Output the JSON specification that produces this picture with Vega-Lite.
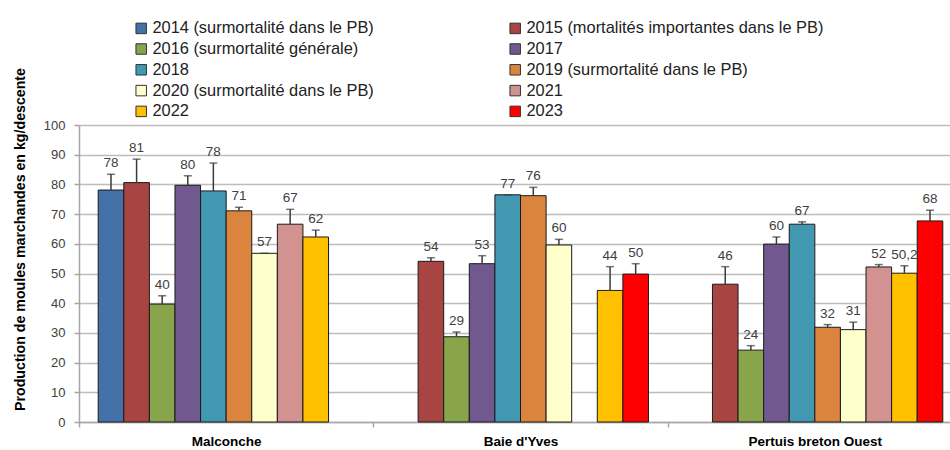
{
  "$schema": "https://vega.github.io/schema/vega-lite/v6.json",
  "width": 883,
  "height": 297,
  "padding": {"top": 20, "left": 12, "right": 0, "bottom": 0},
  "background": "white",
  "config": {
    "view": {"stroke": null},
    "font": "Liberation Sans",
    "axis": {"labelFont": "Liberation Sans", "titleFont": "Liberation Sans"},
    "axisY": {"tickCount": 10}
  },
  "data": {
    "values": [
      {"site": "Malconche", "serie": "2014 (surmortalité dans le PB)", "value": 78.1, "high": 83.4, "label": "78"},
      {"site": "Malconche", "serie": "2015 (mortalités importantes dans le PB)", "value": 80.6, "high": 88.5, "label": "81"},
      {"site": "Malconche", "serie": "2016 (surmortalité générale)", "value": 39.7, "high": 42.5, "label": "40"},
      {"site": "Malconche", "serie": "2017", "value": 79.7, "high": 82.9, "label": "80"},
      {"site": "Malconche", "serie": "2018", "value": 77.8, "high": 87.2, "label": "78"},
      {"site": "Malconche", "serie": "2019 (surmortalité dans le PB)", "value": 71.1, "high": 72.3, "label": "71"},
      {"site": "Malconche", "serie": "2020 (surmortalité dans le PB)", "value": 56.8, "high": 56.8, "label": "57"},
      {"site": "Malconche", "serie": "2021", "value": 66.6, "high": 71.6, "label": "67"},
      {"site": "Malconche", "serie": "2022", "value": 62.3, "high": 64.6, "label": "62"},
      {"site": "Baie d'Yves", "serie": "2015 (mortalités importantes dans le PB)", "value": 54.1, "high": 55.3, "label": "54"},
      {"site": "Baie d'Yves", "serie": "2016 (surmortalité générale)", "value": 28.7, "high": 30.3, "label": "29"},
      {"site": "Baie d'Yves", "serie": "2017", "value": 53.3, "high": 56.0, "label": "53"},
      {"site": "Baie d'Yves", "serie": "2018", "value": 76.5, "high": 76.5, "label": "77"},
      {"site": "Baie d'Yves", "serie": "2019 (surmortalité dans le PB)", "value": 76.2, "high": 79.0, "label": "76"},
      {"site": "Baie d'Yves", "serie": "2020 (surmortalité dans le PB)", "value": 59.6, "high": 61.5, "label": "60"},
      {"site": "Baie d'Yves", "serie": "2022", "value": 44.3, "high": 52.3, "label": "44"},
      {"site": "Baie d'Yves", "serie": "2023", "value": 49.8, "high": 53.3, "label": "50"},
      {"site": "Pertuis breton Ouest", "serie": "2015 (mortalités importantes dans le PB)", "value": 46.4, "high": 52.3, "label": "46"},
      {"site": "Pertuis breton Ouest", "serie": "2016 (surmortalité générale)", "value": 24.2, "high": 25.7, "label": "24"},
      {"site": "Pertuis breton Ouest", "serie": "2017", "value": 59.9, "high": 62.3, "label": "60"},
      {"site": "Pertuis breton Ouest", "serie": "2018", "value": 66.6, "high": 67.4, "label": "67"},
      {"site": "Pertuis breton Ouest", "serie": "2019 (surmortalité dans le PB)", "value": 31.9, "high": 32.8, "label": "32"},
      {"site": "Pertuis breton Ouest", "serie": "2020 (surmortalité dans le PB)", "value": 31.1, "high": 33.6, "label": "31"},
      {"site": "Pertuis breton Ouest", "serie": "2021", "value": 52.2, "high": 53.0, "label": "52"},
      {"site": "Pertuis breton Ouest", "serie": "2022", "value": 50.1, "high": 52.6, "label": "50,2"},
      {"site": "Pertuis breton Ouest", "serie": "2023", "value": 67.7, "high": 71.3, "label": "68"}
    ]
  },
  "encoding": {
    "x": {
      "field": "site", "type": "nominal",
      "sort": ["Malconche", "Baie d'Yves", "Pertuis breton Ouest"],
      "scale": {"paddingInner": 0, "paddingOuter": 0},
      "axis": {
        "title": null, "labelAngle": 0, "labelFontWeight": "bold", "labelFontSize": 13.5,
        "labelColor": "#000000", "domainColor": "#a6a6a6", "domainWidth": 1.5,
        "tickColor": "#a6a6a6", "tickSize": 5, "tickWidth": 1.5, "tickBand": "extent", "labelPadding": 7, "grid": false
      }
    },
    "xOffset": {
      "field": "serie", "type": "nominal",
      "scale": {
        "domain": ["2014 (surmortalité dans le PB)", "2015 (mortalités importantes dans le PB)", "2016 (surmortalité générale)", "2017", "2018", "2019 (surmortalité dans le PB)", "2020 (surmortalité dans le PB)", "2021", "2022", "2023"],
        "paddingInner": 0, "paddingOuter": 0.75
      }
    }
  },
  "layer": [
    {
      "mark": {"type": "bar", "stroke": "#1a1a1a", "strokeWidth": 1},
      "encoding": {
        "y": {
          "field": "value", "type": "quantitative",
          "scale": {"domain": [0, 100], "nice": false},
          "axis": {
            "title": "Production de moules marchandes en kg/descente",
            "titleFontSize": 14.2, "titleFontWeight": "bold", "titleColor": "#000000",
            "titleX": -52, "titleY": 114, "titleBaseline": "bottom", "titleAngle": 270,
            "tickCount": 10, "labelOverlap": false,
            "labelFontSize": 13, "labelColor": "#404040", "labelPadding": 9,
            "tickSize": 5, "tickWidth": 1.5, "tickColor": "#a6a6a6", "domainColor": "#a6a6a6", "domainWidth": 1.5,
            "gridColor": "#bdbdbd", "gridWidth": 1.5
          }
        },
        "color": {
          "field": "serie", "type": "nominal",
          "scale": {
            "domain": ["2014 (surmortalité dans le PB)", "2015 (mortalités importantes dans le PB)", "2016 (surmortalité générale)", "2017", "2018", "2019 (surmortalité dans le PB)", "2020 (surmortalité dans le PB)", "2021", "2022", "2023"],
            "range": ["#4471A8", "#A84543", "#88A54C", "#71598F", "#4298B0", "#DB843D", "#FFFFCC", "#D29290", "#FFC000", "#FF0000"]
          },
          "legend": {
            "title": null, "orient": "none", "legendX": 54, "legendY": -105, "direction": "horizontal",
            "columns": 2, "columnPadding": 133, "rowPadding": 3.8, "padding": 0,
            "symbolType": "square", "symbolSize": 110, "symbolStrokeColor": "#333333", "symbolStrokeWidth": 1,
            "labelFontSize": 16.4, "labelColor": "#222222", "labelLimit": 500, "labelOffset": 3
          }
        }
      }
    },
    {
      "mark": {"type": "rule", "color": "#3a3a3a", "strokeWidth": 1.5},
      "encoding": {"y": {"field": "value", "type": "quantitative"}, "y2": {"field": "high"}}
    },
    {
      "mark": {"type": "tick", "color": "#3a3a3a", "thickness": 1.5, "size": 8},
      "encoding": {"y": {"field": "high", "type": "quantitative"}}
    },
    {
      "mark": {"type": "text", "baseline": "bottom", "dy": -4, "fontSize": 13.5, "color": "#404040"},
      "encoding": {"y": {"field": "high", "type": "quantitative"}, "text": {"field": "label"}}
    }
  ]
}
